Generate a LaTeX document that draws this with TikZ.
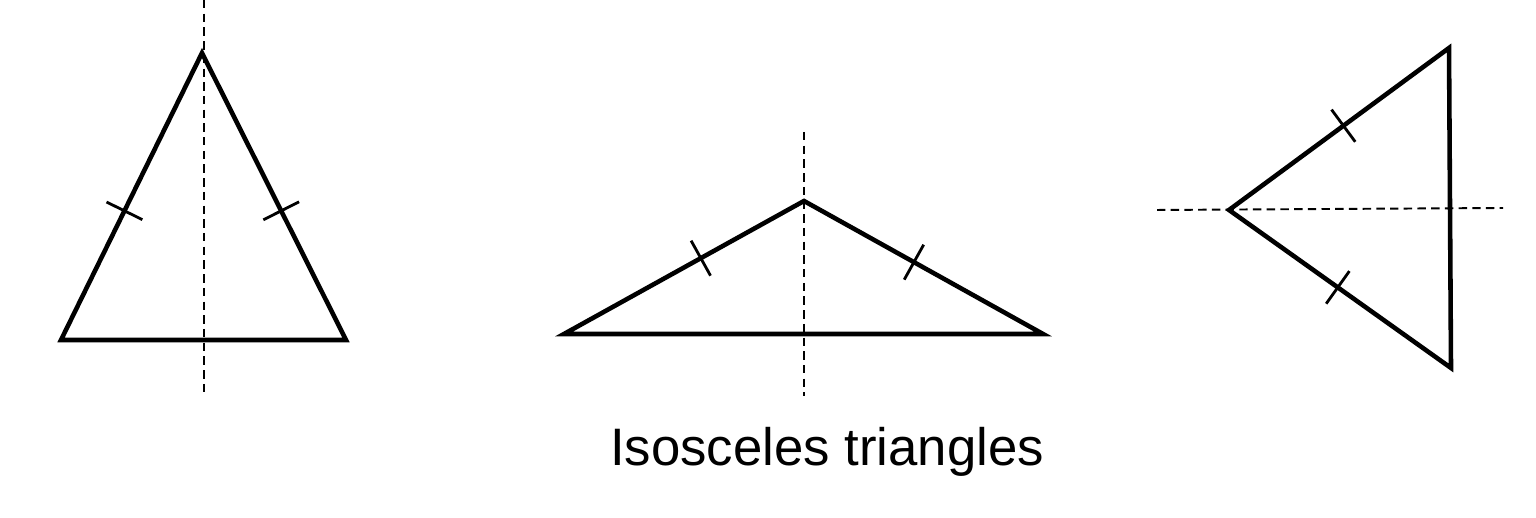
\documentclass[tikz,border=0pt]{standalone}
\usepackage{fontspec}
\setmainfont{Liberation Sans}
\usetikzlibrary{calc}
\begin{document}
\begin{tikzpicture}[side/.style={line width=1.3pt,line join=miter},
    tick/.style={line width=0.8pt},
    axis/.style={line width=0.55pt,dash pattern=on 2.4pt off 1.5pt}]
            \useasboundingbox (0,0) rectangle (15.36,5.18);
            % triangle pointing up
            \coordinate (A) at (2.02,4.65);
            \coordinate (B) at (0.61,1.78);
            \coordinate (C) at (3.46,1.78);
            \draw[axis] (2.04,5.18) -- (2.04,1.21);
            \draw[side] (A) -- (B) -- (C) -- cycle;
            \coordinate (M1) at ($(B)!0.45!(A)$);
            \coordinate (M2) at ($(C)!0.45!(A)$);
            \draw[tick] ($(M1)!0.2cm!90:(A)$) -- ($(M1)!0.2cm!-90:(A)$);
            \draw[tick] ($(M2)!0.2cm!90:(A)$) -- ($(M2)!0.2cm!-90:(A)$);
            % flat triangle
            \coordinate (D) at (8.04,3.17);
            \coordinate (E) at (5.64,1.84);
            \coordinate (F) at (10.43,1.84);
            \draw[axis] (8.04,3.86) -- (8.04,1.22);
            \draw[side] (D) -- (E) -- (F) -- cycle;
            \coordinate (M3) at ($(E)!0.57!(D)$);
            \coordinate (M4) at ($(F)!0.54!(D)$);
            \draw[tick] ($(M3)!0.2cm!90:(D)$) -- ($(M3)!0.2cm!-90:(D)$);
            \draw[tick] ($(M4)!0.2cm!90:(D)$) -- ($(M4)!0.2cm!-90:(D)$);
            % triangle pointing left
            \coordinate (G) at (12.29,3.08);
            \coordinate (P) at (14.49,4.70);
            \coordinate (Q) at (14.51,1.50);
            \draw[axis] (11.57,3.08) -- (15.03,3.10);
            \draw[side] (G) -- (P) -- (Q) -- cycle;
            \coordinate (M5) at ($(G)!0.52!(P)$);
            \coordinate (M6) at ($(G)!0.49!(Q)$);
            \draw[tick] ($(M5)!0.2cm!90:(P)$) -- ($(M5)!0.2cm!-90:(P)$);
            \draw[tick] ($(M6)!0.2cm!90:(Q)$) -- ($(M6)!0.2cm!-90:(Q)$);
            \node[anchor=base,font=\fontsize{15}{18}\selectfont,inner sep=0pt] (title) at (8.27,0.52) {Isosceles triangles};
        \end{tikzpicture}
\end{document}
